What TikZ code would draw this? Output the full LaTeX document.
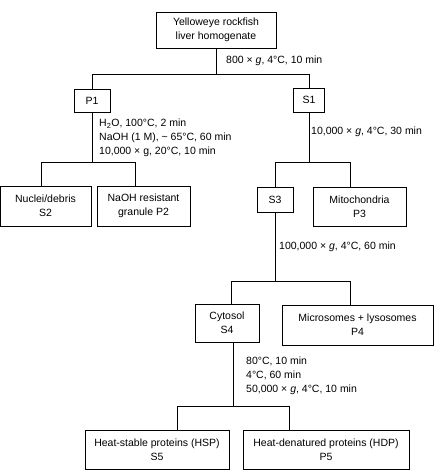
\documentclass[tikz,border=0pt]{standalone}
\usepackage{fontspec}
\setmainfont{Liberation Sans}

\tikzset{
  box/.style={draw, line width=0.75pt, align=center, inner sep=0pt,
    font=\fontsize{10.5}{14}\selectfont},
  cond/.style={anchor=west, align=left, inner sep=0pt,
    font=\fontsize{10.5}{14}\selectfont},
  link/.style={line width=0.75pt}
}

\begin{document}
\begin{tikzpicture}[x=1pt,y=-1pt]
\useasboundingbox (0,0) rectangle (436,472);
\node[box, minimum width=120pt, minimum height=36pt] (hom) at (216,30) {Yelloweye rockfish\\liver homogenate};
\node[box, minimum width=36pt, minimum height=23pt] (p1) at (92,100.5) {P1};
\node[box, minimum width=31pt, minimum height=24pt] (s1) at (309,100) {S1};
\node[box, minimum width=91pt, minimum height=40pt] (s2) at (45.5,206) {Nuclei/debris\\S2};
\node[box, minimum width=93pt, minimum height=40pt] (p2) at (143.5,206) {NaOH resistant\\granule P2};
\node[box, minimum width=36pt, minimum height=25pt] (s3) at (275,199.5) {S3};
\node[box, minimum width=93pt, minimum height=39pt] (p3) at (359.5,206.5) {Mitochondria\\P3};
\node[box, minimum width=64pt, minimum height=38pt] (s4) at (227,323) {Cytosol\\S4};
\node[box, minimum width=151pt, minimum height=40pt] (p4) at (357.5,325) {Microsomes + lysosomes\\P4};
\node[box, minimum width=144pt, minimum height=39pt] (s5) at (157,449.5) {Heat-stable proteins (HSP)\\S5};
\node[box, minimum width=166pt, minimum height=39pt] (p5) at (326,449.5) {Heat-denatured proteins (HDP)\\P5};

\coordinate (j1) at (216,74);
\coordinate (j1l) at (92,74);
\coordinate (j1r) at (309,74);
\coordinate (j2) at (92,162);
\coordinate (j2l) at (41,162);
\coordinate (j2r) at (135,162);
\coordinate (j3) at (309,162);
\coordinate (j3l) at (275,162);
\coordinate (j3r) at (350,162);
\coordinate (j4) at (275,281);
\coordinate (j4l) at (231,281);
\coordinate (j4r) at (350,281);
\coordinate (j5) at (233,406);
\coordinate (j5l) at (177,406);
\coordinate (j5r) at (289,406);

\draw[link] (hom) -- (j1);
\draw[link] (j1l) -- (j1r);
\draw[link] (j1l) -- (p1);
\draw[link] (j1r) -- (s1);
\draw[link] (p1) -- (j2);
\draw[link] (j2l) -- (j2r);
\draw[link] (j2l) -- (j2l |- s2.north);
\draw[link] (j2r) -- (j2r |- p2.north);
\draw[link] (s1) -- (j3);
\draw[link] (j3l) -- (j3r);
\draw[link] (j3l) -- (s3);
\draw[link] (j3r) -- (j3r |- p3.north);
\draw[link] (s3) -- (j4);
\draw[link] (j4l) -- (j4r);
\draw[link] (j4l) -- (j4l |- s4.north);
\draw[link] (j4r) -- (j4r |- p4.north);
\draw[link] (j5 |- s4.south) -- (j5);
\draw[link] (j5l) -- (j5r);
\draw[link] (j5l) -- (j5l |- s5.north);
\draw[link] (j5r) -- (j5r |- p5.north);

\node[cond] (c1) at (226,61) {800 × \textit{g}, 4°C, 10 min};
\node[cond] (c2) at (99,138) {H\textsubscript{2}O, 100°C, 2 min\\NaOH (1 M), \string~ 65°C, 60 min\\10,000 × g, 20°C, 10 min};
\node[cond] (c3) at (311,132) {10,000 × \textit{g}, 4°C, 30 min};
\node[cond] (c4) at (279,247) {100,000 × \textit{g}, 4°C, 60 min};
\node[cond] (c5) at (246,376) {80°C, 10 min\\4°C, 60 min\\50,000 × \textit{g}, 4°C, 10 min};
\end{tikzpicture}
\end{document}
